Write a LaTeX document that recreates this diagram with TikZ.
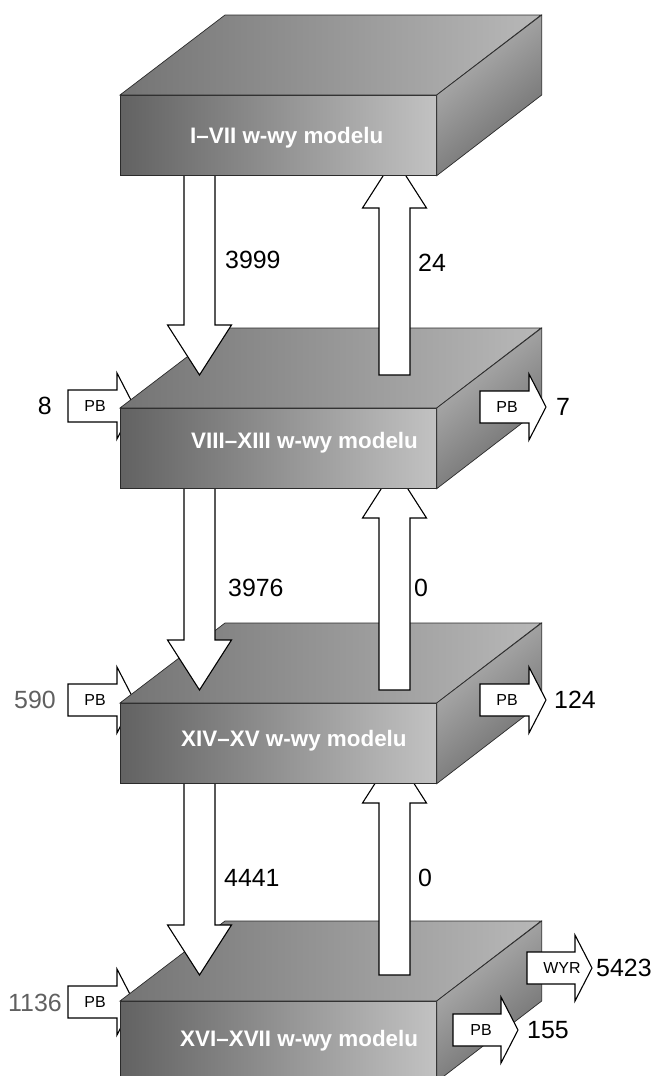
\documentclass[tikz,border=0pt]{standalone}
\usepackage{fontspec}
\setmainfont{Liberation Sans}
\usetikzlibrary{calc}
\definecolor{frontdark}{HTML}{626262}
\definecolor{frontlight}{HTML}{C2C2C2}
\definecolor{topdark}{HTML}{747474}
\definecolor{toplight}{HTML}{B8B8B8}
\definecolor{sidelight}{HTML}{B8B8B8}
\definecolor{sidedark}{HTML}{686868}
\definecolor{edge}{HTML}{2B2B2B}
\definecolor{numgray}{HTML}{606060}
% one storey of the model: front face node #1, top edge at y=#2
\newcommand{\storey}[2]{%
  \node[front, anchor=north west] (#1) at (120,#2) {};
  \shade[face, left color=topdark, right color=toplight]
    (#1.north west) -- ++(105,-80) -- ++(316,0) -- (#1.north east) -- cycle;
  \shade[face, top color=sidelight, bottom color=sidedark, shading angle=40]
    (#1.north east) -- ++(105,-80) -- ++(0,80) -- (#1.south east) -- cycle;}

\begin{document}
\begin{tikzpicture}[x=1bp, y=-1bp,
  face/.style={draw=edge, line width=0.7pt},
  front/.style={face, shade, left color=frontdark, right color=frontlight,
    minimum width=316bp, minimum height=80bp, inner sep=0pt},
  fat/.style n args={3}{draw=black, fill=white, line width=1.1pt, to path={
    ($(\tikztostart)!#1!90:(\tikztotarget)$)
    -- ($(\tikztotarget)!#3!(\tikztostart)!#1!90:(\tikztotarget)$)
    -- ($(\tikztotarget)!#3!(\tikztostart)!#2!90:(\tikztotarget)$)
    -- (\tikztotarget)
    -- ($(\tikztotarget)!#3!(\tikztostart)!#2!-90:(\tikztotarget)$)
    -- ($(\tikztotarget)!#3!(\tikztostart)!#1!-90:(\tikztotarget)$)
    -- ($(\tikztostart)!#1!-90:(\tikztotarget)$) -- cycle}},
  flowarr/.style={fat={15.5bp}{32bp}{50bp}},
  sidearr/.style={fat={16bp}{33bp}{17bp}},
  lbl/.style={text=white, inner sep=0pt, font=\bfseries\fontsize{22.5}{24}\selectfont},
  num/.style={inner sep=0pt, font=\fontsize{25}{28}\selectfont},
  tag/.style={inner sep=0pt, font=\fontsize{16}{18}\selectfont}]
\clip (0,0) rectangle (652,1076);

% flows between storeys
\coordinate (dn12s) at (199.5,170);  \coordinate (dn12e) at (199.5,375);
\coordinate (up21s) at (394.5,375);  \coordinate (up21e) at (394.5,158);
\coordinate (dn23s) at (199.5,483);  \coordinate (dn23e) at (199.5,690);
\coordinate (up32s) at (394.5,690);  \coordinate (up32e) at (394.5,468);
\coordinate (dn34s) at (199.5,778);  \coordinate (dn34e) at (199.5,975);
\coordinate (up43s) at (394.5,975);  \coordinate (up43e) at (394.5,753);
% side flows
\coordinate (in2s) at (68,406);    \coordinate (in2e) at (134,406);
\coordinate (in3s) at (68,700);    \coordinate (in3e) at (134,700);
\coordinate (in4s) at (68,1002);   \coordinate (in4e) at (134,1002);
\coordinate (out2s) at (480,407);  \coordinate (out2e) at (546,407);
\coordinate (out3s) at (480,700);  \coordinate (out3e) at (546,700);
\coordinate (wyrs) at (527,968);   \coordinate (wyre) at (592,968);
\coordinate (out4s) at (453,1030); \coordinate (out4e) at (518,1030);

\draw[sidearr] (in4s) to (in4e);
\storey{b4}{1001}
\draw[sidearr] (wyrs) to (wyre);
\draw[sidearr] (out4s) to (out4e);
\draw[flowarr] (dn34s) to (dn34e);
\draw[flowarr] (up43s) to (up43e);

\draw[sidearr] (in3s) to (in3e);
\storey{b3}{703}
\draw[sidearr] (out3s) to (out3e);
\draw[flowarr] (dn23s) to (dn23e);
\draw[flowarr] (up32s) to (up32e);

\draw[sidearr] (in2s) to (in2e);
\storey{b2}{408}
\draw[sidearr] (out2s) to (out2e);
\draw[flowarr] (dn12s) to (dn12e);
\draw[flowarr] (up21s) to (up21e);

\storey{b1}{95}

\node[lbl, anchor=base west] (t1) at (190,143.5) {I–VII w-wy modelu};
\node[lbl, anchor=base west] (t2) at (191,448) {VIII–XIII w-wy modelu};
\node[lbl, anchor=base west] (t3) at (181,746.5) {XIV–XV w-wy modelu};
\node[lbl, anchor=base west] (t4) at (180,1046) {XVI–XVII w-wy modelu};

\node[tag] (pbin2) at (95,406) {PB};
\node[tag] (pbin3) at (95,700) {PB};
\node[tag] (pbin4) at (95,1002) {PB};
\node[tag] (pbout2) at (507,407) {PB};
\node[tag] (pbout3) at (507,700) {PB};
\node[tag] (wyr) at (562,968) {WYR};
\node[tag] (pbout4) at (481,1030) {PB};

\node[num, anchor=west] (n12) at (225,260) {3999};
\node[num, anchor=west] (n21) at (418,263) {24};
\node[num, anchor=west] (n23) at (228,588) {3976};
\node[num, anchor=west] (n32) at (414,588) {0};
\node[num, anchor=west] (n34) at (224,878) {4441};
\node[num, anchor=west] (n43) at (418,878) {0};
\node[num, anchor=east] (nin2) at (52,406) {8};
\node[num, anchor=east, text=numgray] (nin3) at (56,700) {590};
\node[num, anchor=east, text=numgray] (nin4) at (62,1003) {1136};
\node[num, anchor=west] (nout2) at (556,407) {7};
\node[num, anchor=west] (nout3) at (554,700) {124};
\node[num, anchor=west] (nwyr) at (596,968) {5423};
\node[num, anchor=west] (nout4) at (527,1030) {155};
\end{tikzpicture}
\end{document}
